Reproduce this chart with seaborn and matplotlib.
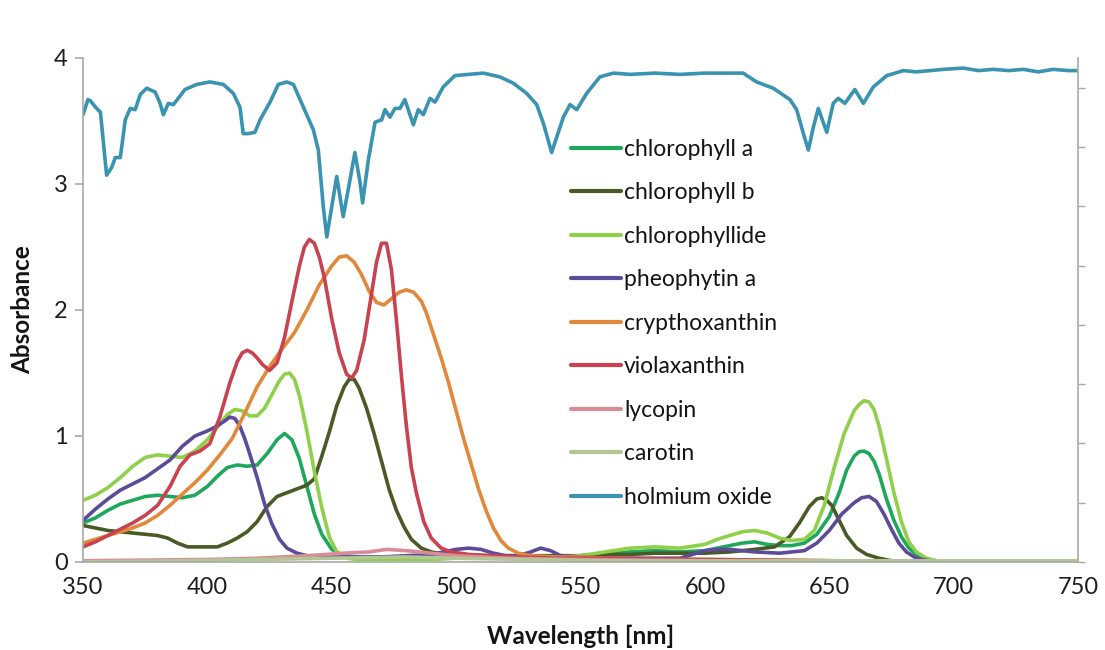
import numpy as np
import pandas as pd
import matplotlib
matplotlib.use("Agg")
import matplotlib.pyplot as plt
import seaborn as sns

# ---- absorbance spectra (wavelength in nm, absorbance) ----
CHLA_WL = [350, 355, 360, 365, 370, 375, 380, 385, 390, 395, 400, 404, 408, 412, 416, 420,
           424, 428, 431, 434, 437, 440, 443, 446, 450, 455, 460, 470, 480, 490, 500, 510,
           520, 530, 540, 550, 560, 570, 580, 590, 600, 605, 610, 615, 620, 625, 630, 635,
           640, 645, 650, 654, 657, 660, 662, 664, 666, 668, 670, 673, 676, 679, 682, 685,
           689, 693, 697, 700, 750]
CHLA_ABS = [0.31, 0.35, 0.41, 0.46, 0.49, 0.52, 0.53, 0.52, 0.51, 0.53, 0.60, 0.68, 0.75, 0.77,
            0.76, 0.77, 0.86, 0.97, 1.02, 0.97, 0.82, 0.60, 0.38, 0.22, 0.10, 0.05, 0.04, 0.04,
            0.04, 0.04, 0.05, 0.05, 0.04, 0.04, 0.04, 0.05, 0.06, 0.08, 0.09, 0.08, 0.09, 0.11,
            0.13, 0.15, 0.16, 0.14, 0.13, 0.13, 0.15, 0.22, 0.36, 0.55, 0.73, 0.84, 0.875, 0.88,
            0.86, 0.80, 0.70, 0.50, 0.33, 0.20, 0.11, 0.06, 0.025, 0.01, 0.003, 0.0, 0.0]

CHLB_WL = [350, 355, 360, 365, 370, 375, 380, 384, 388, 392, 396, 400, 404, 408, 412, 416,
           420, 424, 428, 432, 436, 440, 443, 446, 449, 452, 455, 457, 459, 461, 464, 467,
           470, 473, 476, 479, 482, 486, 490, 495, 500, 510, 520, 530, 540, 550, 560, 570,
           580, 590, 600, 610, 620, 628, 634, 638, 642, 645, 647, 649, 651, 654, 657, 661,
           665, 670, 675, 680, 750]
CHLB_ABS = [0.29, 0.27, 0.25, 0.24, 0.23, 0.22, 0.21, 0.19, 0.15, 0.12, 0.12, 0.12, 0.12,
            0.15, 0.19, 0.24, 0.32, 0.44, 0.52, 0.55, 0.58, 0.61, 0.66, 0.84, 1.03, 1.24,
            1.39, 1.45, 1.45, 1.38, 1.22, 1.02, 0.80, 0.58, 0.41, 0.28, 0.18, 0.11, 0.08,
            0.06, 0.05, 0.05, 0.05, 0.05, 0.05, 0.05, 0.06, 0.06, 0.07, 0.07, 0.07, 0.08,
            0.10, 0.12, 0.20, 0.31, 0.44, 0.50, 0.51, 0.49, 0.45, 0.33, 0.21, 0.11, 0.06,
            0.03, 0.01, 0.0, 0.0]

CHLIDE_WL = [350, 355, 360, 365, 370, 375, 380, 385, 390, 395, 400, 404, 408, 411, 414, 417,
             420, 423, 426, 429, 431, 433, 435, 437, 440, 443, 446, 449, 452, 456, 460, 470,
             480, 490, 500, 510, 520, 530, 540, 550, 560, 570, 580, 590, 600, 605, 610, 615,
             620, 625, 630, 635, 640, 644, 648, 652, 656, 660, 662, 664, 666, 668, 670, 673,
             676, 679, 682, 685, 689, 693, 697, 750]
CHLIDE_ABS = [0.49, 0.53, 0.59, 0.67, 0.76, 0.83, 0.85, 0.84, 0.83, 0.88, 0.97, 1.07, 1.17,
              1.21, 1.20, 1.16, 1.16, 1.22, 1.33, 1.44, 1.49, 1.50, 1.45, 1.32, 1.04, 0.72,
              0.43, 0.20, 0.08, 0.03, 0.02, 0.02, 0.02, 0.02, 0.03, 0.03, 0.03, 0.03, 0.04,
              0.05, 0.08, 0.11, 0.12, 0.11, 0.14, 0.18, 0.21, 0.24, 0.25, 0.23, 0.19, 0.17,
              0.18, 0.25, 0.45, 0.75, 1.02, 1.20, 1.25, 1.28, 1.27, 1.21, 1.08, 0.82, 0.55,
              0.32, 0.16, 0.08, 0.03, 0.01, 0.0, 0.0]

PHEO_WL = [350, 355, 360, 365, 370, 375, 380, 385, 390, 395, 400, 404, 407, 409, 411, 413,
           415, 417, 420, 423, 426, 429, 432, 436, 440, 450, 460, 470, 480, 490, 495, 500,
           505, 510, 515, 520, 525, 530, 534, 538, 542, 550, 560, 570, 580, 590, 595, 600,
           605, 610, 615, 620, 630, 640, 645, 650, 655, 660, 663, 666, 669, 672, 675, 678,
           681, 685, 690, 695, 750]
PHEO_ABS = [0.33, 0.42, 0.50, 0.57, 0.62, 0.67, 0.74, 0.81, 0.92, 1.00, 1.04, 1.08, 1.12,
            1.15, 1.14, 1.08, 0.98, 0.86, 0.67, 0.46, 0.30, 0.18, 0.11, 0.07, 0.05, 0.04,
            0.04, 0.04, 0.05, 0.06, 0.08, 0.10, 0.11, 0.10, 0.07, 0.05, 0.05, 0.08, 0.11,
            0.09, 0.05, 0.04, 0.03, 0.03, 0.03, 0.03, 0.06, 0.09, 0.10, 0.10, 0.09, 0.08,
            0.07, 0.09, 0.15, 0.25, 0.38, 0.47, 0.51, 0.52, 0.48, 0.38, 0.26, 0.15, 0.08,
            0.03, 0.01, 0.0, 0.0]

CRYPTO_WL = [350, 355, 360, 365, 370, 375, 380, 385, 390, 395, 400, 405, 410, 415, 420, 425,
             430, 435, 440, 445, 450, 453, 456, 459, 462, 465, 468, 471, 474, 477, 480, 483,
             486, 488, 491, 494, 497, 500, 503, 506, 509, 512, 515, 518, 521, 525, 530, 540,
             550, 560, 580, 600, 650, 700, 750]
CRYPTO_ABS = [0.15, 0.18, 0.21, 0.24, 0.27, 0.31, 0.37, 0.45, 0.54, 0.63, 0.73, 0.85, 0.98,
              1.18, 1.39, 1.55, 1.69, 1.82, 2.00, 2.20, 2.35, 2.42, 2.43, 2.38, 2.28, 2.15,
              2.06, 2.04, 2.09, 2.14, 2.16, 2.14, 2.07, 1.98, 1.80, 1.62, 1.42, 1.20, 0.98,
              0.78, 0.58, 0.41, 0.27, 0.17, 0.11, 0.07, 0.05, 0.04, 0.04, 0.03, 0.02, 0.02,
              0.01, 0.0, 0.0]

VIOLA_WL = [350, 355, 360, 365, 370, 375, 380, 385, 389, 393, 397, 401, 405, 409, 412, 414,
            416, 418, 420, 422, 425, 428, 431, 434, 437, 439, 441, 443, 445, 447, 450, 453,
            456, 458, 460, 463, 466, 468, 470, 472, 474, 476, 478, 480, 482, 484, 487, 490,
            494, 498, 505, 515, 525, 540, 560, 600, 650, 700, 750]
VIOLA_ABS = [0.12, 0.16, 0.21, 0.26, 0.31, 0.37, 0.45, 0.60, 0.76, 0.85, 0.88, 0.94, 1.15,
             1.42, 1.59, 1.66, 1.68, 1.66, 1.62, 1.57, 1.52, 1.58, 1.78, 2.07, 2.35, 2.50,
             2.56, 2.53, 2.42, 2.26, 1.93, 1.66, 1.49, 1.46, 1.52, 1.76, 2.13, 2.38, 2.53,
             2.53, 2.32, 1.92, 1.48, 1.08, 0.75, 0.55, 0.32, 0.19, 0.11, 0.08, 0.06, 0.05,
             0.04, 0.03, 0.03, 0.02, 0.01, 0.0, 0.0]

LYCO_WL = [350, 400, 420, 440, 455, 465, 472, 480, 490, 500, 520, 550, 600, 700, 750]
LYCO_ABS = [0.01, 0.02, 0.03, 0.05, 0.07, 0.08, 0.10, 0.09, 0.07, 0.05, 0.03, 0.02, 0.01,
            0.0, 0.0]

CARO_WL = [350, 390, 420, 450, 480, 500, 530, 560, 600, 750]
CARO_ABS = [0.0, 0.01, 0.02, 0.03, 0.04, 0.03, 0.02, 0.01, 0.01, 0.01]

HO_WL = [350, 352, 353, 355, 357, 359.5, 361.5, 363, 365, 367, 369, 371, 373, 375.6, 379,
         381, 382.3, 384.3, 386.3, 388.3, 391, 395.7, 401, 406.4, 410.4, 413.1, 414.4,
         416.5, 419.1, 421.2, 425.2, 428.5, 431.9, 434.6, 438.6, 442.6, 444.6, 446.6, 448,
         452, 454.6, 457.3, 459.3, 461.4, 462.4, 464.7, 467.4, 470.1, 471.4, 473.4, 475.4,
         477.4, 479.4, 482.8, 484.8, 486.8, 489.5, 491.5, 494.8, 499.5, 505, 511, 517.6,
         523, 528.3, 532.4, 535.1, 538.4, 540.4, 543.1, 545.8, 548.5, 552.5, 557.8, 563.2,
         570, 580, 590, 600, 610, 615.4, 620.8, 627.5, 634.2, 636.9, 639.6, 641.6, 643.6,
         645.6, 649, 651.6, 653.6, 656.3, 660.3, 663.7, 667.7, 673.1, 679.8, 685, 690.5,
         696, 703.9, 710, 716, 722, 728, 734, 740, 746, 750]
HO_ABS = [3.55, 3.67, 3.66, 3.61, 3.57, 3.07, 3.13, 3.21, 3.21, 3.51, 3.60, 3.59, 3.71, 3.76,
          3.73, 3.64, 3.55, 3.64, 3.63, 3.68, 3.75, 3.79, 3.81, 3.79, 3.72, 3.61, 3.40, 3.40,
          3.41, 3.51, 3.65, 3.79, 3.81, 3.79, 3.61, 3.43, 3.27, 2.82, 2.58, 3.06, 2.74, 3.03,
          3.25, 3.01, 2.85, 3.19, 3.49, 3.51, 3.59, 3.53, 3.60, 3.60, 3.67, 3.47, 3.59, 3.55,
          3.68, 3.65, 3.77, 3.86, 3.87, 3.88, 3.85, 3.80, 3.72, 3.63, 3.48, 3.25, 3.37, 3.53,
          3.63, 3.59, 3.72, 3.85, 3.88, 3.87, 3.88, 3.87, 3.88, 3.88, 3.88, 3.81, 3.76, 3.67,
          3.59, 3.40, 3.27, 3.45, 3.60, 3.41, 3.64, 3.68, 3.64, 3.75, 3.64, 3.77, 3.86, 3.90,
          3.89, 3.90, 3.91, 3.92, 3.90, 3.91, 3.90, 3.91, 3.89, 3.91, 3.90, 3.90]

NAMES = ["chlorophyll a", "chlorophyll b", "chlorophyllide", "pheophytin a",
         "crypthoxanthin", "violaxanthin", "lycopin", "carotin", "holmium oxide"]
COLORS = ["#1fa85c", "#4a5a26", "#8fd04a", "#5c4b98", "#e2883a", "#c8424f",
          "#d98c98", "#b2c795", "#3a93b0"]

X_TICKS = [350, 400, 450, 500, 550, 600, 650, 700, 750]
Y_TICKS = [0, 1, 2, 3, 4]

series = [(CHLA_WL, CHLA_ABS), (CHLB_WL, CHLB_ABS), (CHLIDE_WL, CHLIDE_ABS),
          (PHEO_WL, PHEO_ABS), (CRYPTO_WL, CRYPTO_ABS), (VIOLA_WL, VIOLA_ABS),
          (LYCO_WL, LYCO_ABS), (CARO_WL, CARO_ABS), (HO_WL, HO_ABS)]

frames = []
for name, (wl, ab) in zip(NAMES, series):
    frames.append(pd.DataFrame({"Wavelength": wl, "Absorbance": ab, "Pigment": name}))
df = pd.concat(frames, ignore_index=True)

sns.set_theme(style="white")
plt.rcParams["font.family"] = ["Lato", "DejaVu Sans"]

fig = plt.figure(figsize=(11.05, 6.5), dpi=100)
ax = fig.add_axes([83 / 1105, 88 / 650, 995 / 1105, 504 / 650])

sns.lineplot(data=df, x="Wavelength", y="Absorbance", hue="Pigment", hue_order=NAMES,
             palette=dict(zip(NAMES, COLORS)), estimator=None, sort=False,
             linewidth=2.6, ax=ax)

ax.set_xlim(350, 750)
ax.set_ylim(0, 4)
ax.set_xticks(X_TICKS)
ax.set_yticks(Y_TICKS)

spine_col = "#a8a8a8"
for side in ["top", "right"]:
    ax.spines[side].set_visible(False)
for side in ["left", "bottom"]:
    ax.spines[side].set_color(spine_col)
    ax.spines[side].set_linewidth(1.2)
ax.tick_params(axis="both", direction="out", length=6, width=1.2, color=spine_col,
               labelsize=17, labelcolor="#1e1e1e", pad=5)

# secondary right axis with unlabelled ticks
ax2 = ax.twinx()
ax2.set_ylim(0, 8.5)
ax2.set_yticks(range(9))
ax2.set_yticklabels([])
for side in ["top", "left", "bottom"]:
    ax2.spines[side].set_visible(False)
ax2.spines["right"].set_color(spine_col)
ax2.spines["right"].set_linewidth(1.2)
ax2.tick_params(axis="y", direction="out", length=5, width=1.0, color=spine_col)
ax2.grid(False)

ax.set_xlabel("Wavelength [nm]", fontsize=17.5, fontweight="bold", color="#141414",
              labelpad=19)
ax.set_ylabel("Absorbance", fontsize=17.5, fontweight="bold", color="#141414",
              labelpad=14)

handles, labels = ax.get_legend_handles_labels()
ax.get_legend().remove()
leg = ax2.legend(handles, labels, loc="upper left",
                 bbox_to_anchor=(571 / 1105, 1 - 139 / 650), bbox_transform=fig.transFigure,
                 frameon=False, fontsize=16.5, handlelength=2.2, handletextpad=0.12,
                 labelspacing=0.98, borderpad=0, borderaxespad=0)
for text in leg.get_texts():
    text.set_color("#141414")
for line in leg.get_lines():
    line.set_linewidth(3.0)

fig.savefig("out.png", dpi=100)
